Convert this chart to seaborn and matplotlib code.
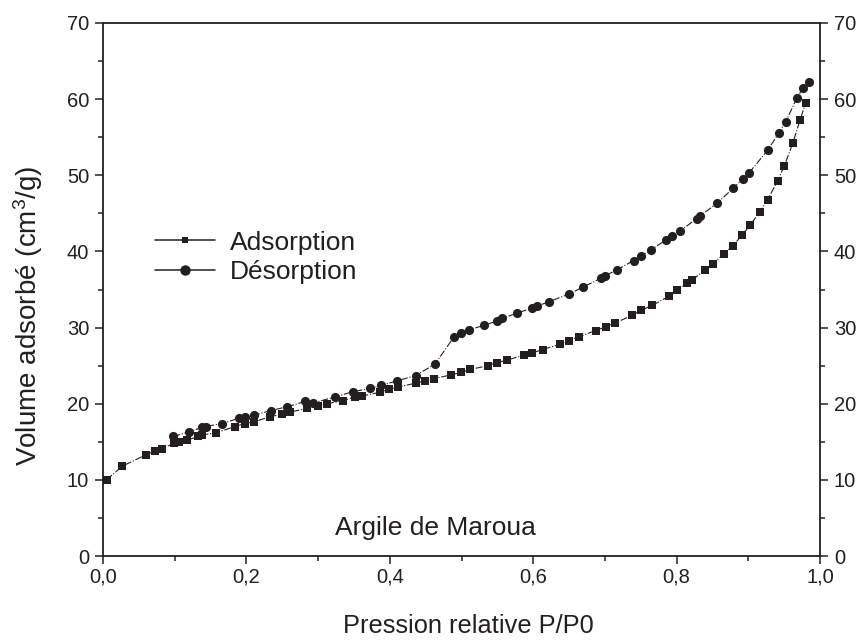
import matplotlib
matplotlib.use("Agg")
import matplotlib.pyplot as plt
from matplotlib.lines import Line2D
from matplotlib.ticker import MultipleLocator, FuncFormatter
import seaborn as sns
import pandas as pd

# ---- data ----
ads_x = [0.005, 0.027, 0.060, 0.073, 0.082, 0.099, 0.106, 0.117, 0.133, 0.138,
         0.158, 0.184, 0.198, 0.210, 0.233, 0.249, 0.261, 0.285, 0.300, 0.312,
         0.335, 0.351, 0.361, 0.386, 0.399, 0.412, 0.436, 0.449, 0.462, 0.486,
         0.499, 0.512, 0.537, 0.549, 0.563, 0.587, 0.599, 0.613, 0.637, 0.650,
         0.664, 0.687, 0.701, 0.714, 0.738, 0.751, 0.766, 0.789, 0.801, 0.815,
         0.821, 0.840, 0.851, 0.866, 0.878, 0.891, 0.903, 0.916, 0.927, 0.941,
         0.950, 0.962, 0.972, 0.980]
ads_y = [10.0, 11.8, 13.3, 13.8, 14.1, 14.8, 15.0, 15.2, 15.7, 15.9,
         16.2, 17.0, 17.4, 17.6, 18.3, 18.6, 18.9, 19.4, 19.7, 20.0,
         20.4, 20.9, 21.0, 21.5, 21.9, 22.2, 22.7, 23.0, 23.3, 23.8,
         24.1, 24.5, 25.0, 25.4, 25.7, 26.4, 26.7, 27.1, 27.8, 28.3,
         28.8, 29.6, 30.1, 30.6, 31.6, 32.3, 32.9, 34.1, 34.9, 35.8,
         36.2, 37.6, 38.4, 39.7, 40.7, 42.1, 43.5, 45.2, 46.8, 49.3,
         51.2, 54.2, 57.2, 59.5]

des_x = [0.098, 0.120, 0.138, 0.143, 0.166, 0.190, 0.198, 0.211, 0.234, 0.257,
         0.282, 0.293, 0.324, 0.349, 0.373, 0.388, 0.410, 0.436, 0.463, 0.489,
         0.499, 0.510, 0.532, 0.550, 0.556, 0.578, 0.599, 0.605, 0.622, 0.650,
         0.669, 0.695, 0.700, 0.717, 0.740, 0.750, 0.764, 0.785, 0.793, 0.805,
         0.828, 0.832, 0.856, 0.879, 0.892, 0.901, 0.927, 0.943, 0.952, 0.968,
         0.976, 0.985]
des_y = [15.7, 16.3, 16.9, 17.0, 17.4, 18.1, 18.3, 18.5, 19.1, 19.6,
         20.3, 20.1, 20.9, 21.6, 22.0, 22.4, 23.0, 23.7, 25.2, 28.7,
         29.3, 29.7, 30.3, 30.9, 31.2, 31.9, 32.6, 32.8, 33.4, 34.4,
         35.3, 36.5, 36.8, 37.6, 38.8, 39.4, 40.2, 41.5, 42.0, 42.7,
         44.3, 44.6, 46.3, 48.3, 49.5, 50.3, 53.3, 55.6, 57.0, 60.2,
         61.4, 62.2]

labels = ["Adsorption", "Désorption"]
xlabel = "Pression relative P/P0"
ylabel = "Volume adsorbé (cm$^{3}$/g)"
annotation = "Argile de Maroua"

# ---- style ----
sns.set_style("ticks")
plt.rcParams["font.family"] = ["Liberation Sans", "DejaVu Sans"]
plt.rcParams["mathtext.fontset"] = "custom"
plt.rcParams["mathtext.rm"] = "Liberation Sans"
plt.rcParams["mathtext.default"] = "regular"
ink = "#231f20"
plt.rcParams["text.color"] = ink
plt.rcParams["axes.labelcolor"] = ink
plt.rcParams["xtick.color"] = ink
plt.rcParams["ytick.color"] = ink

fig = plt.figure(figsize=(8.68, 6.42), dpi=100)
ax = fig.add_axes([103/868, 1 - 556/642, (820-103)/868, (556-23)/642])

df_a = pd.DataFrame({"x": ads_x, "y": ads_y})
df_d = pd.DataFrame({"x": des_x, "y": des_y})

sns.lineplot(data=df_a, x="x", y="y", ax=ax, sort=False, color=ink,
             linestyle="-.", linewidth=0.8, marker="s", markersize=5.6,
             markeredgewidth=0, markerfacecolor=ink)
sns.lineplot(data=df_d, x="x", y="y", ax=ax, sort=False, color=ink,
             linestyle="-.", linewidth=0.8, marker="o", markersize=6.6,
             markeredgewidth=0, markerfacecolor=ink)

ax.set_xlim(0, 1.0)
ax.set_ylim(0, 70)
ax.xaxis.set_major_locator(MultipleLocator(0.2))
ax.xaxis.set_minor_locator(MultipleLocator(0.1))
ax.yaxis.set_major_locator(MultipleLocator(10))
ax.yaxis.set_minor_locator(MultipleLocator(5))
ax.xaxis.set_major_formatter(FuncFormatter(lambda v, p: f"{v:.1f}".replace(".", ",")))

for s in ax.spines.values():
    s.set_linewidth(1.3)
    s.set_color(ink)

ax.tick_params(which="both", direction="out", width=1.1, colors=ink,
               left=True, right=True, labelright=True, bottom=True, top=False)
ax.tick_params(which="major", length=6, labelsize=14.5, pad=4)
ax.tick_params(axis="x", which="major", pad=2)
ax.tick_params(which="minor", length=3.5)

ax.set_xlabel(xlabel, fontsize=18.3)
ax.set_ylabel(ylabel, fontsize=20)
ax.xaxis.set_label_coords(0.509, -0.131)
ax.yaxis.set_label_coords(-0.104, 0.45)
ax.xaxis.label.set_va("center")
ax.yaxis.label.set_va("center")

ax.text(0.464, 3.7, annotation, fontsize=19, ha="center", va="center", color=ink)

handles = [
    Line2D([], [], color=ink, linewidth=1.1, marker="s", markersize=5, markeredgewidth=0),
    Line2D([], [], color=ink, linewidth=1.1, marker="o", markersize=7.5, markeredgewidth=0),
]
ax.legend(handles, labels, loc="center left", bbox_to_anchor=(0.0725, 0.56),
          frameon=False, fontsize=19, handlelength=2.27, handletextpad=0.57,
          labelspacing=0.22, borderpad=0, borderaxespad=0)

fig.savefig("out.png", dpi=100)
